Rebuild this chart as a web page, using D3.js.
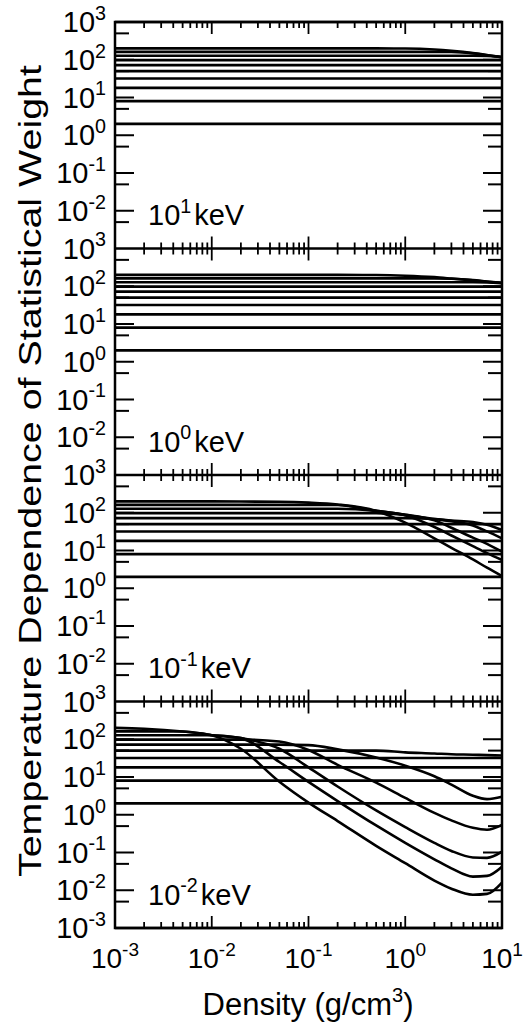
<!DOCTYPE html>
<html>
<head>
<meta charset="utf-8">
<title>Statistical weight</title>
<script src="https://cdn.jsdelivr.net/npm/d3@7"></script>
<style>
  body { margin: 0; background: #fff; }
  text { font-family: 'Liberation Sans', Arial, Helvetica, sans-serif; fill: #000; }
</style>
</head>
<body>
<svg id="chart" width="523" height="1036"></svg>
<script>
// density grid (g/cm^3) shared by all curves
var density = [0.001, 0.002, 0.005, 0.01, 0.02, 0.05, 0.1, 0.2, 0.5, 1, 2, 3, 5, 7, 10];

// temperature of each panel, as power of ten in keV (top to bottom)
var tempExp = [1, 0, -1, -2];
var yExp = [3, 2, 1, 0, -1, -2, -3];
var xExp = [-3, -2, -1, 0, 1];

// levels that stay flat over the whole range, per panel
var flat10keV = [2, 8, 18, 32, 50, 72, 98];
var flat1keV = [2, 8, 18, 32, 50, 72, 98];
var flat01keV = [2, 8, 18, 32, 50];
var flat001keV = [2, 8, 18, 32];

// levels that bend, values on the density grid
var bent10keV = [
  [128,128,128,128,128,128,128,128,128,128,128,128,128,126,120],
  [162,162,162,162,162,162,162,162,162,162,162,160,148,132,117],
  [200,200,200,200,200,200,200,200,200,198,186,172,150,133,115]
];
var bent1keV = [
  [128,128,128,128,128,128,128,128,128,128,128,128,128,127,120],
  [162,162,162,162,162,162,162,162,162,162,162,158,145,133,122],
  [200,200,200,200,200,200,200,200,198,190,174,160,143,132,124]
];
var bent01keV = [
  [72,72,72,72,72,72,72,72,72,72,68,62,57,48,35],
  [98,98,98,98,98,98,98,98,98,88,68,60,46,32,21],
  [128,128,128,128,128,128,128,128,112,88,63,40,22,15,9.3],
  [162,162,162,162,162,162,162,160,112,86,42,25,13,8.5,5.6],
  [200,200,200,200,198,195,185,165,112,55,21,11.8,5.8,3.5,2.1]
];
var bent001keV = [
  [50,50,50,50,50,50,50,50,50,45,42,40,39,38,37],
  [72,72,72,72,72,72,70,54,33,20,10.5,6.3,3.2,2.6,3.0],
  [98,98,98,98,98,87,52,21,7.1,2.8,1.12,0.71,0.45,0.4,0.54],
  [128,128,128,128,107,56,18,5.6,1.3,0.47,0.18,0.11,0.074,0.072,0.105],
  [162,162,160,128,107,25,7.4,2.3,0.52,0.18,0.066,0.038,0.023,0.024,0.042],
  [200,190,160,128,56,7.5,2.1,0.68,0.15,0.052,0.018,0.011,0.0076,0.008,0.016]
];

var flats = [flat10keV, flat1keV, flat01keV, flat001keV];
var bents = [bent10keV, bent1keV, bent01keV, bent001keV];

var left = 115, right = 502, top0 = 22, panelH = 226.5;
var svg = d3.select("#chart");
svg.append("rect").attr("width", 523).attr("height", 1036).attr("fill", "#fff");

var x = d3.scaleLog().domain([1e-3, 10]).range([left, right]);

function sup(t, base, exp, size) {
  t.append("tspan").text(base);
  t.append("tspan").attr("dy", -size * 0.42).attr("font-size", size * 0.68).text(exp);
}

tempExp.forEach(function(te, i) {
  var top = top0 + i * panelH;
  var y = d3.scaleLog().domain([1e-3, 1e3]).range([top + panelH, top]);
  var g = svg.append("g");

  var line = d3.line()
    .x(function(d) { return x(d[0]); })
    .y(function(d) { return y(d[1]); })
    .curve(d3.curveMonotoneX);

  flats[i].forEach(function(v) {
    g.append("path")
      .attr("d", line([[density[0], v], [density[density.length - 1], v]]))
      .attr("fill", "none").attr("stroke", "#000").attr("stroke-width", 2.6);
  });
  bents[i].forEach(function(s) {
    g.append("path")
      .attr("d", line(s.map(function(v, k) { return [density[k], v]; })))
      .attr("fill", "none").attr("stroke", "#000").attr("stroke-width", 2.6);
  });

  // y ticks at decades (long) and at 5 x decade (short), both sides
  var yt = y.ticks().filter(function(t) {
    var m = t / Math.pow(10, Math.floor(Math.log10(t) + 1e-9));
    return (Math.abs(m - 1) < 1e-6 || Math.abs(m - 5) < 1e-6) && t > 1.001e-3 && t < 999;
  });
  yt.forEach(function(t) {
    var m = t / Math.pow(10, Math.floor(Math.log10(t) + 1e-9));
    var len = Math.abs(m - 1) < 1e-6 ? 19 : 14;
    g.append("line").attr("x1", left).attr("x2", left + len)
      .attr("y1", y(t)).attr("y2", y(t)).attr("stroke", "#000").attr("stroke-width", 2);
    g.append("line").attr("x1", right - len).attr("x2", right)
      .attr("y1", y(t)).attr("y2", y(t)).attr("stroke", "#000").attr("stroke-width", 2);
  });

  // y tick labels
  yExp.forEach(function(e) {
    if (e === -3 && i < tempExp.length - 1) return;
    var t = g.append("text").attr("x", 106).attr("y", y(Math.pow(10, e)) + 10)
      .attr("text-anchor", "end").attr("font-size", 29);
    sup(t, "10", e, 29);
  });

  // panel temperature label
  var pl = g.append("text").attr("x", 148).attr("y", top + 203).attr("font-size", 29);
  sup(pl, "10", te, 29);
  pl.append("tspan").attr("dy", 29 * 0.42).attr("dx", 3).text("keV");
});

// frame
svg.append("rect").attr("x", left).attr("y", top0).attr("width", right - left)
  .attr("height", panelH * 4).attr("fill", "none").attr("stroke", "#000").attr("stroke-width", 2.5);

// horizontal axes with x ticks
var xt = x.ticks();
for (var b = 0; b <= 4; b++) {
  var yy = top0 + b * panelH;
  svg.append("line").attr("x1", left).attr("x2", right).attr("y1", yy).attr("y2", yy)
    .attr("stroke", "#000").attr("stroke-width", 2.5);
  xt.forEach(function(t) {
    var major = Math.abs(Math.log10(t) - Math.round(Math.log10(t))) < 1e-6;
    var len = major ? 12 : 6;
    var y1 = b === 0 ? yy : yy - len;
    var y2 = b === 4 ? yy : yy + len;
    svg.append("line").attr("x1", x(t)).attr("x2", x(t)).attr("y1", y1).attr("y2", y2)
      .attr("stroke", "#000").attr("stroke-width", 1.8);
  });
}

// x tick labels
xExp.forEach(function(e) {
  var t = svg.append("text").attr("x", x(Math.pow(10, e))).attr("y", 968)
    .attr("text-anchor", "middle").attr("font-size", 28);
  sup(t, "10", e, 28);
});

// axis titles
var xl = svg.append("text").attr("x", 308).attr("y", 1015)
  .attr("text-anchor", "middle").attr("font-size", 31);
xl.append("tspan").text("Density (g/cm");
xl.append("tspan").attr("dy", -13).attr("font-size", 20).text("3");
xl.append("tspan").attr("dy", 13).text(")");

svg.append("text")
  .attr("transform", "translate(41,471) rotate(-90)")
  .attr("text-anchor", "middle").attr("font-size", 31)
  .attr("textLength", 812).attr("lengthAdjust", "spacingAndGlyphs")
  .text("Temperature Dependence of Statistical Weight");
</script>
</body>
</html>
